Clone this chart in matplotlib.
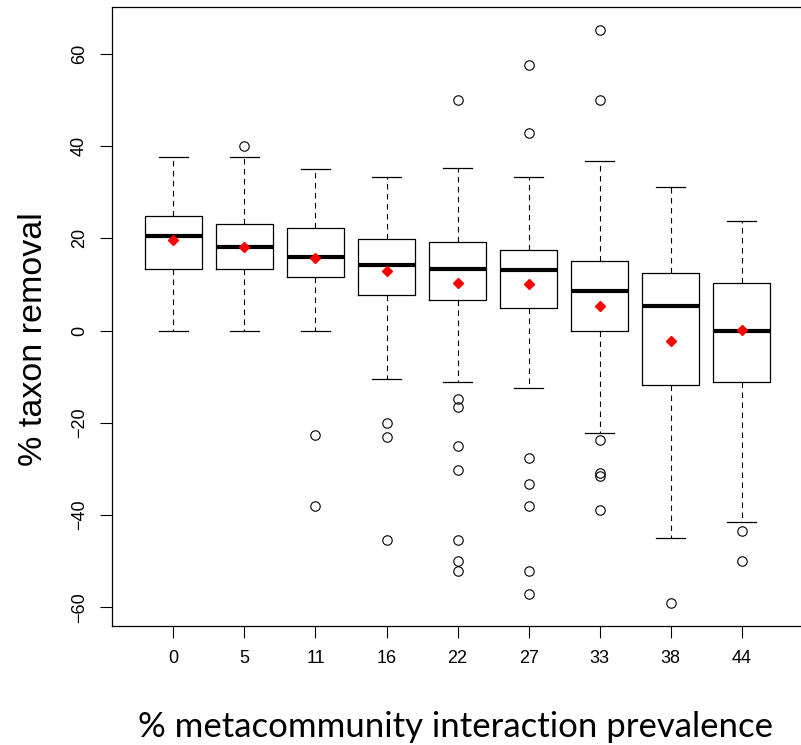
import matplotlib
matplotlib.use("Agg")
import matplotlib.pyplot as plt

categories = ["0", "5", "11", "16", "22", "27", "33", "38", "44"]
q1 = [13.4, 13.4, 11.6, 7.7, 6.7, 4.8, 0.0, -11.8, -11.2]
median = [20.4, 18.2, 15.9, 14.3, 13.4, 13.2, 8.5, 5.4, 0.0]
q3 = [24.9, 23.1, 22.3, 19.9, 19.1, 17.4, 15.0, 12.5, 10.3]
whisker_low = [0.0, 0.0, 0.0, -10.5, -11.1, -12.5, -22.2, -44.9, -41.6]
whisker_high = [37.5, 37.5, 35.0, 33.3, 35.3, 33.3, 36.8, 31.2, 23.8]
means = [19.7, 18.2, 15.7, 12.9, 10.3, 10.1, 5.4, -2.2, 0.2]
outliers = [
    [],
    [40.0],
    [-22.7, -38.1],
    [-20.0, -23.1, -45.4],
    [50.0, -14.8, -16.6, -25.0, -30.3, -45.4, -49.9, -52.2],
    [57.6, 42.8, -27.7, -33.3, -38.1, -52.1, -57.1],
    [65.2, 50.0, -23.8, -30.8, -31.6, -38.9],
    [-59.0],
    [-43.4, -49.9],
]
y_ticks = [-60, -40, -20, 0, 20, 40, 60]

W, H = 801, 745
fig = plt.figure(figsize=(W / 100, H / 100), dpi=100)
ax = fig.add_axes([112.3 / W, 1 - 625.7 / H, (802.8 - 112.3) / W, (625.7 - 6.7) / H])

stats = []
for i in range(len(categories)):
    stats.append(dict(med=median[i], q1=q1[i], q3=q3[i], whislo=whisker_low[i],
                      whishi=whisker_high[i], fliers=outliers[i], mean=means[i],
                      label=categories[i]))

ax.bxp(stats, positions=range(1, len(categories) + 1), widths=0.8,
       showmeans=True, patch_artist=False, manage_ticks=False,
       boxprops=dict(color="black", linewidth=0.9),
       medianprops=dict(color="black", linewidth=3.0, solid_capstyle="butt"),
       whiskerprops=dict(color="black", linewidth=0.8, linestyle=(0, (5, 4))),
       capprops=dict(color="black", linewidth=0.9),
       capwidths=0.4,
       flierprops=dict(marker="o", markerfacecolor="none", markeredgecolor="black",
                       markersize=6.8, markeredgewidth=0.8),
       meanprops=dict(marker="D", markerfacecolor="red", markeredgecolor="red",
                      markersize=4.6))

allv = [v for lst in outliers for v in lst] + whisker_low + whisker_high
lo, hi = min(allv), max(allv)
rng = hi - lo
ax.set_ylim(lo - 0.04 * rng, hi + 0.04 * rng)
n = len(categories)
ax.set_xlim(0.5 - 0.04 * n, n + 0.5 + 0.04 * n)

ax.set_xticks(range(1, n + 1))
ax.set_xticklabels(categories, fontfamily="Liberation Sans", fontsize=13)
ax.set_yticks(y_ticks)
ax.set_yticklabels([str(t).replace("-", "\u2212") for t in y_ticks],
                   fontfamily="Liberation Sans", fontsize=13, rotation=90, va="center")
ax.tick_params(axis="both", direction="out", length=8.6, width=0.8, color="black")
ax.tick_params(axis="x", pad=9)
ax.tick_params(axis="y", pad=9)
for s in ax.spines.values():
    s.set_linewidth(0.9)
ax.spines["right"].set_visible(False)

fig.text(42 / W, 1 - 339 / H, "% taxon removal", rotation=90, rotation_mode="anchor",
         ha="center", va="baseline", fontfamily="Liberation Sans", fontsize=24.5)
fig.text(456 / W, 1 - 736.7 / H, "% metacommunity interaction prevalence",
         ha="center", va="baseline", fontfamily="Lato", fontsize=25)

fig.savefig("out.png", dpi=100)
